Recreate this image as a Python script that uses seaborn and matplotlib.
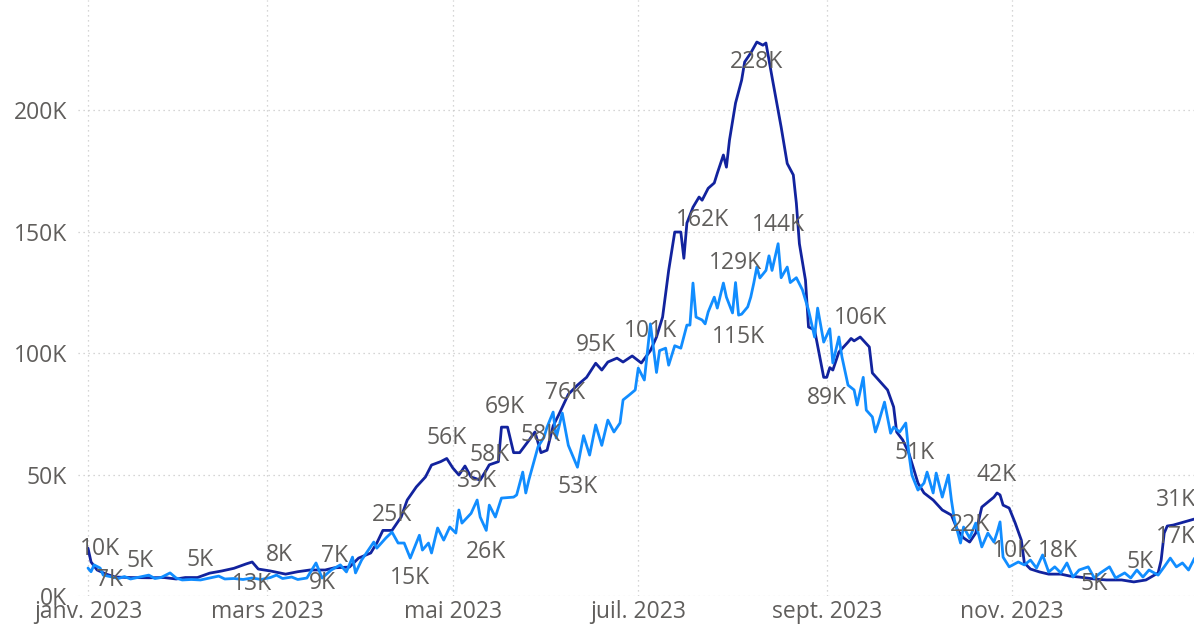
import numpy as np
import pandas as pd
import seaborn as sns
import matplotlib.pyplot as plt
import matplotlib.dates as mdates
from matplotlib.ticker import FuncFormatter, MultipleLocator

# jours depuis le 1er janvier 2023 et valeurs en milliers
dark_days = [0, 1, 3, 6, 9, 14, 20, 25, 29, 32, 36, 40, 44, 48, 52, 54, 56, 60, 65, 69,
             73, 78, 81, 86, 89, 93, 95, 97, 100, 103, 105, 108, 111, 113, 116, 118, 120,
             122, 124, 126, 129, 131, 132, 135, 136, 138, 140, 142, 145, 147, 149, 151,
             153, 155, 158, 161, 164, 167, 169, 171, 174, 176, 179, 182, 185, 187, 189,
             191, 193, 195, 196, 197, 199, 201, 202, 204, 206, 207, 209, 210, 211, 213,
             215, 216, 218, 220, 222, 223, 225, 228, 230, 232, 233, 234, 236, 237, 239,
             242, 243, 244, 245, 247, 250, 251, 252, 254, 257, 258, 261, 263, 265, 266,
             268, 270, 273, 275, 278, 281, 284, 286, 288, 290, 292, 294, 298, 299, 300,
             301, 303, 305, 307, 308, 310, 313, 316, 320, 323, 326, 331, 335, 340, 344,
             348, 352, 353, 354, 355, 357, 364]
dark_k = [19.7, 14.0, 10.7, 9.0, 7.8, 7.6, 7.5, 7.6, 7.0, 7.6, 7.6, 9.4, 10.3, 11.4, 13.2,
          14.0, 11.1, 10.3, 9.0, 10.0, 10.7, 10.7, 11.6, 11.9, 15.6, 17.7, 21.8, 27.0, 27.0,
          32.5, 39.5, 44.9, 49.0, 53.9, 55.3, 56.6, 52.7, 49.8, 53.5, 49.0, 47.7, 51.8, 54.0,
          55.3, 69.5, 69.5, 59.0, 59.0, 64.0, 67.5, 59.0, 60.0, 70.0, 75.0, 83.0, 86.8, 90.0,
          95.8, 93.0, 96.3, 97.9, 96.3, 98.8, 95.9, 101.0, 106.6, 114.8, 134.0, 149.8, 149.8,
          139.0, 153.5, 160.0, 164.2, 162.9, 167.8, 170.0, 174.0, 181.5, 176.5, 187.6, 202.9,
          212.3, 219.8, 223.5, 228.0, 226.7, 227.6, 213.6, 193.0, 178.0, 173.3, 161.7, 145.0,
          130.0, 110.7, 109.5, 90.0, 90.0, 94.0, 93.0, 100.4, 104.5, 106.0, 105.0, 106.6,
          102.5, 91.8, 87.6, 84.8, 77.8, 67.5, 64.2, 58.8, 46.5, 42.4, 39.5, 35.4, 33.3, 27.2,
          23.9, 22.2, 25.9, 36.6, 40.7, 42.4, 41.6, 37.4, 36.2, 30.0, 23.0, 13.6, 11.1, 9.9,
          9.0, 9.0, 8.2, 7.8, 7.0, 6.6, 6.6, 5.8, 6.6, 9.5, 14.8, 25.9, 28.8, 29.2, 31.7]

light_days = [0, 1, 2, 4, 5, 8, 10, 12, 14, 17, 20, 22, 24, 27, 29, 31, 34, 37, 40, 43, 45,
              48, 51, 54, 57, 60, 62, 64, 67, 69, 72, 75, 77, 80, 83, 85, 87, 88, 90, 94, 95,
              98, 100, 102, 104, 106, 108, 109, 110, 112, 113, 115, 117, 119, 121, 122, 123,
              126, 128, 129, 131, 132, 134, 136, 140, 141, 143, 144, 145, 148, 150, 151, 153,
              154, 156, 158, 161, 163, 165, 167, 169, 171, 173, 175, 176, 178, 180, 181, 183,
              185, 187, 188, 190, 191, 193, 195, 197, 198, 199, 200, 202, 203, 204, 206, 207,
              209, 210, 212, 213, 214, 215, 217, 218, 219, 220, 221, 223, 224, 225, 227, 228,
              230, 231, 233, 235, 237, 239, 240, 242, 244, 245, 247, 248, 250, 252, 253, 255,
              256, 258, 259, 260, 262, 264, 265, 267, 269, 270, 271, 273, 275, 276, 278, 279,
              281, 283, 284, 285, 287, 288, 290, 292, 294, 296, 298, 299, 300, 301, 303, 306,
              308, 310, 312, 314, 316, 318, 320, 322, 324, 326, 329, 331, 333, 336, 338, 341,
              343, 345, 347, 349, 352, 354, 356, 358, 360, 362, 364]
light_k = [11.5, 10.0, 12.8, 11.5, 8.6, 7.8, 7.2, 8.0, 7.0, 7.8, 8.6, 7.2, 7.6, 9.5, 7.4,
           6.6, 6.8, 6.6, 7.4, 8.2, 7.0, 7.2, 6.8, 7.4, 6.8, 7.6, 8.6, 7.2, 7.8, 6.8, 7.4,
           13.6, 7.4, 10.7, 12.8, 9.9, 16.0, 9.5, 14.8, 22.2, 19.7, 23.9, 26.3, 21.8, 21.8,
           15.6, 21.8, 25.0, 18.9, 21.8, 17.7, 28.0, 23.0, 28.4, 25.9, 35.4, 30.0, 34.0, 39.5,
           32.5, 27.0, 37.4, 32.5, 40.3, 40.7, 41.6, 51.0, 42.4, 47.7, 61.3, 65.4, 69.5, 75.7,
           65.0, 75.3, 62.0, 53.0, 66.0, 58.0, 70.4, 62.0, 72.4, 67.5, 71.2, 80.7, 82.7, 84.8,
           93.8, 88.9, 112.0, 92.0, 101.0, 102.0, 95.0, 103.0, 102.0, 111.5, 111.5, 128.8,
           114.8, 113.6, 112.0, 116.9, 123.0, 118.5, 128.8, 123.0, 116.5, 129.0, 115.6, 116.0,
           119.0, 123.0, 128.8, 135.4, 130.9, 134.0, 140.0, 134.0, 145.0, 131.0, 135.4, 129.0,
           131.0, 126.0, 117.7, 106.6, 118.5, 104.5, 110.0, 95.9, 106.6, 98.4, 86.8, 84.8,
           78.6, 90.0, 76.5, 73.7, 67.5, 71.2, 79.8, 67.0, 69.5, 67.5, 71.2, 58.8, 49.8, 43.6,
           46.5, 51.0, 42.4, 50.6, 40.7, 49.8, 39.5, 31.3, 21.8, 28.4, 23.9, 30.0, 20.2, 25.9,
           22.2, 26.0, 30.5, 16.0, 12.0, 14.0, 12.8, 14.8, 11.5, 16.9, 9.9, 12.0, 9.5, 13.6,
           7.8, 10.7, 12.0, 7.4, 9.5, 12.0, 7.4, 9.5, 7.4, 10.7, 7.8, 10.7, 8.6, 12.0, 15.6,
           12.0, 13.6, 10.7, 15.6]

# étiquettes de données : texte, jour, série, décalage vertical (px)
label_texts = ["10K", "7K", "5K", "5K", "13K", "8K", "9K", "7K", "25K", "15K", "56K", "39K",
               "58K", "26K", "69K", "58K", "76K", "53K", "95K", "101K", "162K", "129K",
               "115K", "144K", "228K", "106K", "89K", "51K", "22K", "42K", "10K", "18K",
               "5K", "5K", "31K", "17K"]
label_days = [4, 7, 17, 37, 54, 63, 77, 81, 100, 106, 118, 128, 132, 131, 137, 149, 157, 161,
              167, 185, 202, 213, 214, 227, 220, 254, 243, 272, 290, 299, 304, 319, 331, 346,
              358, 358]
label_series = ["d", "d", "l", "d", "d", "d", "d", "d", "d", "l", "d", "l", "d", "l", "d",
                "d", "d", "l", "d", "d", "d", "l", "l", "l", "d", "d", "d", "d", "d", "d",
                "l", "l", "d", "d", "d", "l"]
label_dy = [22, -5, 16, 16, -22, 18, -13, 12, 15, -20, 20, 19, 10, -22, 20, 18, 8, -20, 18,
            20, -20, 20, -22, 19, -20, 19, -21, 20, 17, 18, 14, 19, -5, 19, 24, 30]

tick_dates = ["2023-01-01", "2023-03-01", "2023-05-01", "2023-07-01", "2023-09-01", "2023-11-01"]
tick_labels = ["janv. 2023", "mars 2023", "mai 2023", "juil. 2023", "sept. 2023", "nov. 2023"]

DARK = "#12239E"
LIGHT = "#118DFF"
GREY = "#605E5C"

base = pd.Timestamp("2023-01-01")
df_dark = pd.DataFrame({"date": base + pd.to_timedelta(dark_days, unit="D"),
                        "valeur": np.array(dark_k) * 1000})
df_light = pd.DataFrame({"date": base + pd.to_timedelta(light_days, unit="D"),
                         "valeur": np.array(light_k) * 1000})

sns.set_style("white")
plt.rcParams["font.family"] = ["Open Sans", "DejaVu Sans"]

fig = plt.figure(figsize=(11.94, 6.25), dpi=100)
ax = fig.add_axes([0.0653, 0.0464, 0.9347, 0.9536])

sns.lineplot(data=df_dark, x="date", y="valeur", color=DARK, linewidth=2.0,
             estimator=None, ax=ax)
sns.lineplot(data=df_light, x="date", y="valeur", color=LIGHT, linewidth=2.0,
             estimator=None, ax=ax)

for txt, d, s, dy in zip(label_texts, label_days, label_series, label_dy):
    days, vals = (dark_days, dark_k) if s == "d" else (light_days, light_k)
    y = np.interp(d, days, vals) * 1000
    ax.annotate(txt, (base + pd.Timedelta(days=d), y), xytext=(0, dy),
                textcoords="offset pixels", ha="center", va="center",
                color=GREY, fontsize=16.5)

ax.set_xlim(base - pd.Timedelta(days=3.3), base + pd.Timedelta(days=363.8))
ax.set_ylim(0, 245300)
ax.yaxis.set_major_locator(MultipleLocator(50000))
ax.yaxis.set_major_formatter(FuncFormatter(lambda v, p: f"{v / 1000:.0f}K"))
ax.set_xticks(pd.to_datetime(tick_dates))
ax.set_xticklabels(tick_labels)

ax.grid(True, linestyle=(0, (1, 3)), color="#C8C8C8", linewidth=0.9)
ax.set_axisbelow(True)
ax.tick_params(axis="both", length=0, labelsize=16.5, labelcolor=GREY)
ax.tick_params(axis="y", pad=8)
ax.tick_params(axis="x", pad=3)
ax.set_xlabel("")
ax.set_ylabel("")
sns.despine(ax=ax, left=True, bottom=True)

fig.savefig("out.png", dpi=100)
